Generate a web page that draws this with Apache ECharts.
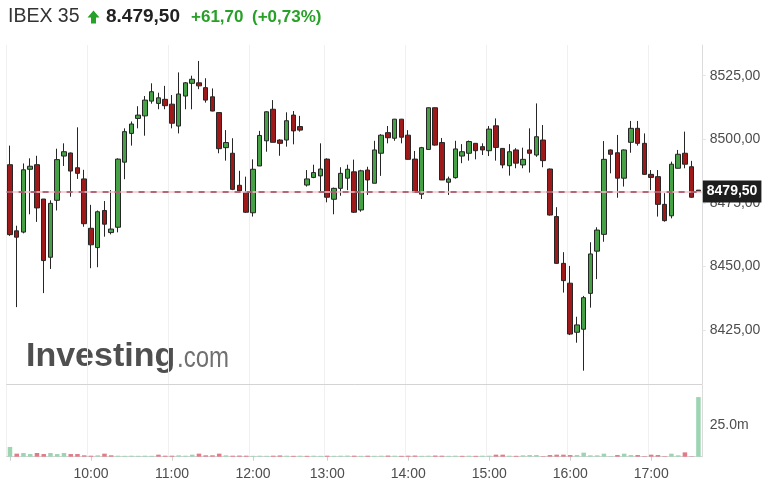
<!DOCTYPE html>
<html>
<head>
<meta charset="utf-8">
<script src="https://cdn.jsdelivr.net/npm/echarts@6/dist/echarts.min.js"></script>
<style>
html,body{margin:0;padding:0;background:#fff;}
#chart{width:784px;height:496px;}
</style>
</head>
<body>
<div id="chart"></div>
<script>
// ---- data ----
const times = [
 '09:00','09:05','09:10','09:15','09:20','09:25','09:30','09:35','09:40','09:45','09:50','09:55',
 '10:00','10:05','10:10','10:15','10:20','10:25','10:30','10:35','10:40','10:45','10:50','10:55',
 '11:00','11:05','11:10','11:15','11:20','11:25','11:30','11:35','11:40','11:45','11:50','11:55',
 '12:00','12:05','12:10','12:15','12:20','12:25','12:35','12:40','12:45','12:50','12:55',
 '13:00','13:05','13:10','13:15','13:20','13:25','13:30','13:35','13:40','13:45','13:50','13:55',
 '14:00','14:05','14:10','14:15','14:20','14:25','14:30','14:35','14:40','14:45','14:50','14:55',
 '15:00','15:05','15:10','15:15','15:20','15:25','15:30','15:35','15:40','15:45','15:50','15:55',
 '16:00','16:05','16:10','16:15','16:20','16:25','16:30','16:35','16:40','16:45','16:50','16:55',
 '17:00','17:05','17:10','17:15','17:20','17:25','17:30','17:35'
];
const open = [
 8490,8464,8463.5,8488.2,8490,8476.5,8453.6,8476,8493.4,8494.6,8488.8,8484.4,
 8465,8457.4,8472,8463.3,8465.4,8491,8502.3,8508.2,8509.2,8515,8514.1,8515.7,
 8513.8,8505.2,8517,8522,8522.2,8520.3,8516.7,8510.5,8496.7,8494.5,8481.9,8479.1,
 8471.1,8489.5,8499.4,8511.8,8499.7,8499.7,8509.5,8505,8482,8485,8485.6,
 8492.2,8476.4,8480.7,8484.7,8487.2,8472.2,8487.9,8482.7,8494.5,8502.6,8500.4,8507.9,
 8501.6,8492.2,8478.4,8496,8512.4,8498.7,8483.1,8484.9,8493.4,8494.5,8498.4,8497.1,
 8495.5,8505.3,8496.4,8489.6,8495.8,8489.9,8495.8,8493.8,8499.7,8488.3,8469.6,8451.2,
 8443.4,8424.1,8425.3,8439.4,8456,8462.6,8495.8,8494.7,8484.7,8498.8,8504.3,8498.4,
 8486.2,8485.3,8474.4,8469.9,8488.6,8494.5,8489.2,8480
];
const close = [
 8462.5,8461.5,8488,8489.4,8473,8452.3,8474.8,8492,8495.1,8487.5,8486.6,8466.8,
 8458.5,8471.5,8466.6,8464.7,8492.2,8503,8506,8509.5,8515.4,8518.7,8516.3,8513.2,
 8506.3,8517.8,8522.2,8523.6,8521,8515.4,8511.1,8496.3,8498.7,8480.3,8479.7,8471.3,
 8488.2,8501.5,8510.8,8498.8,8498.4,8507.3,8503.3,8503.6,8484.4,8486.9,8488.3,
 8477.2,8480.7,8486.6,8488.2,8471.3,8487.6,8484,8495.8,8501.6,8500.6,8507.9,8500.8,
 8492.1,8479.1,8496.7,8512.4,8497.7,8484,8484.4,8496.2,8495.1,8499.1,8495.5,8495.8,
 8504,8496.8,8489.9,8495.1,8490.6,8492.1,8494.5,8501,8491.6,8470.2,8451.2,8444.4,
 8423.4,8427,8437.7,8454.9,8464.3,8492.1,8494.1,8484.7,8495.8,8504.3,8498.4,8486.2,
 8485,8474.4,8468,8490.2,8494.1,8490.2,8477.2,8479.5
];
const low = [
 8462,8434,8463,8470.5,8467.5,8439.5,8449,8472,8489.5,8477.4,8484.4,8465.6,
 8449.3,8449.7,8461.7,8462.6,8463.4,8484.3,8497.5,8504.3,8501.4,8514,8511.8,8511.8,
 8504.3,8502.3,8511.8,8511.8,8519.7,8514.4,8511,8494.5,8491.6,8480,8479.4,8471,
 8469.6,8489.5,8495.1,8498.8,8493.5,8497.1,8498,8503,8481.4,8484.7,8479.4,
 8475.2,8470.5,8477.8,8480,8471,8471.5,8478.1,8482.7,8485.6,8498.4,8499.4,8498.4,
 8492,8479,8476.5,8496,8497.5,8484,8478.1,8484.5,8490.6,8491.6,8492.1,8493.8,
 8493.4,8491.6,8488.6,8485.7,8488.6,8488.6,8486.9,8493.1,8489,8470,8451,8439.7,
 8423,8420,8409,8433.8,8445,8459.7,8486.6,8477,8481.4,8494.7,8497.5,8486,
 8480,8469.6,8467.6,8468.9,8488.5,8488.6,8477,8479.5
];
const high = [
 8497.5,8466,8490.5,8492.5,8493.5,8476.5,8476,8496.3,8498.4,8494.8,8504.7,8488,
 8474.2,8472,8475.7,8480,8492.5,8504.3,8507,8513,8517,8522,8518.3,8521,
 8517.4,8526.3,8522.5,8525,8530.8,8524,8520,8510.5,8503.6,8500.4,8487.6,8485.3,
 8492.1,8503.3,8511,8515.4,8500,8510.6,8511.1,8509.2,8487.9,8490,8498.4,
 8492.5,8481,8489,8490,8492,8488,8489.2,8499.4,8502,8505.2,8508,8508,
 8503.6,8495.4,8497,8512.5,8512.5,8500.5,8485.3,8499.4,8498.1,8499.5,8498.5,8498.4,
 8505.2,8508.2,8496.5,8498.1,8496.5,8496.7,8504.3,8514.1,8505.6,8488.5,8473.3,8455.6,
 8450.2,8430.2,8438.4,8459.5,8465.4,8499.3,8496,8501.7,8496,8507.2,8507.2,8502.3,
 8487.9,8487.9,8478.8,8491.2,8495.8,8503,8491.5,8480
];
// volume in millions
const volume = [
 7.7,2.4,2.9,2.1,2.9,2.1,2.9,2.1,2.9,2.1,2.1,1.1,
 0.8,1.1,2.4,1.1,0.8,0.7,0.8,0.7,0.8,0.7,1.6,0.8,
 0.8,1.1,0.8,1.6,2.4,1.1,1.1,2.4,1.1,0.8,0.9,0.8,
 0.7,0.8,0.7,0.8,1.0,0.8,0.7,0.8,0.7,0.8,0.7,
 0.8,0.7,0.8,0.9,0.8,0.7,0.8,0.7,0.8,0.9,0.8,0.7,
 0.8,0.9,0.7,0.8,0.9,0.8,0.7,0.8,0.7,0.8,0.7,0.8,
 0.8,1.6,1.6,0.8,0.7,1.1,1.3,1.3,0.4,1.3,1.6,1.6,
 1.3,1.3,3.2,1.1,1.1,2.4,0.4,1.3,2.4,1.3,1.3,0.4,
 1.6,1.3,0.4,2.4,1.1,3.4,0.3,47.0
];
const prevClose = 8417.80;
const lastPrice = 8479.50;
const priceTicks = [8425, 8450, 8475, 8500, 8525];
const volumeTicks = [25];
const headerName = 'IBEX 35';
const headerPrice = '8.479,50';
const headerChange = '+61,70';
const headerPct = '(+0,73%)';

// ---- chart ----
const chart = echarts.init(document.getElementById('chart'), null, {renderer: 'canvas'});
const candleData = open.map((o, i) => [o, close[i], low[i], high[i]]);
const volData = volume.map((v, i) => {
  const pc = i === 0 ? prevClose : close[i - 1];
  const up = close[i] >= pc;
  return {value: v, itemStyle: {color: up ? '#9dd5b3' : '#e27a87'}};
});
const isHour = (idx, val) => /:00$/.test(val);
const fmt = v => v.toFixed(2).replace('.', ',');
const FONT = '"Liberation Sans", Arial, sans-serif';

const option = {
  animation: false,
  backgroundColor: '#fff',
  grid: [
    {left: 6.6, right: 82.2, top: 45, bottom: 112},
    {left: 6.6, right: 82.2, top: 385, bottom: 39.3}
  ],
  xAxis: [
    {type: 'category', gridIndex: 0, data: times, boundaryGap: true,
     axisLine: {show: true, lineStyle: {color: '#d4d4d4', width: 1}},
     axisTick: {show: false}, axisLabel: {show: false},
     splitLine: {show: true, interval: isHour, lineStyle: {color: '#f0f0f0', width: 1}}},
    {type: 'category', gridIndex: 1, data: times, boundaryGap: true,
     axisLine: {show: true, lineStyle: {color: '#d4d4d4', width: 1}},
     axisTick: {show: true, interval: isHour, alignWithLabel: true, length: 4, lineStyle: {color: '#cfcfcf'}},
     axisLabel: {show: true, interval: (idx, val) => isHour(idx, val) && idx > 0,
       formatter: v => v.replace(/^0/, ''), color: '#4d4d4d', fontSize: 14, fontFamily: FONT, margin: 10},
     splitLine: {show: true, interval: isHour, lineStyle: {color: '#f0f0f0', width: 1}}}
  ],
  yAxis: [
    {type: 'value', gridIndex: 0, position: 'right', scale: true,
     min: 8403.76, max: 8537.07,
     axisLine: {show: true, lineStyle: {color: '#dcdcdc'}},
     axisTick: {show: true, length: 4, customValues: priceTicks, lineStyle: {color: '#e4e4e4'}},
     axisLabel: {show: true, customValues: priceTicks, formatter: v => fmt(v),
       color: '#4d4d4d', fontSize: 14, fontFamily: FONT, margin: 8},
     splitLine: {show: false}},
    {type: 'value', gridIndex: 1, position: 'right', min: 0, max: 56.5,
     axisLine: {show: true, lineStyle: {color: '#dcdcdc'}},
     axisTick: {show: false, customValues: volumeTicks},
     axisLabel: {show: true, customValues: volumeTicks, formatter: v => v.toFixed(1) + 'm',
       color: '#4d4d4d', fontSize: 14, fontFamily: FONT, margin: 8},
     splitLine: {show: false}}
  ],
  series: [
    {type: 'candlestick', xAxisIndex: 0, yAxisIndex: 0, data: candleData, barWidth: 5,
     itemStyle: {color: '#46a046', color0: '#9e1a1a', borderColor: '#262626', borderColor0: '#262626', borderWidth: 1},
     markLine: {
       symbol: 'none', silent: true, animation: false,
       data: [
         {yAxis: lastPrice, lineStyle: {color: '#f4c3cc', width: 1.6, type: 'solid'}, label: {show: false}},
         {yAxis: lastPrice, lineStyle: {color: '#9c4658', width: 1.6, type: [6, 6]},
          label: {show: true, position: 'end', distance: 1, formatter: fmt(lastPrice),
            backgroundColor: '#1e1e1e', color: '#fff', fontWeight: 'bold', fontSize: 14,
            fontFamily: FONT, padding: [4, 4, 4, 4], lineHeight: 14}}
       ]
     }},
    {type: 'bar', xAxisIndex: 1, yAxisIndex: 1, data: volData, barWidth: 4.5}
  ],
  graphic: [
    {type: 'text', left: 8, top: 7, style: {text: headerName, font: '19.5px ' + FONT, fill: '#333'}},
    {type: 'polygon', shape: {points: [[93.5, 10.5], [87.5, 17.5], [91, 17.5], [91, 23.5], [96, 23.5], [96, 17.5], [99.5, 17.5]]},
     style: {fill: '#27a127'}},
    {type: 'text', left: 106, top: 7, style: {text: headerPrice, font: 'bold 19px ' + FONT, fill: '#222'}},
    {type: 'text', left: 191, top: 8.5, style: {text: headerChange, font: 'bold 17px ' + FONT, fill: '#27a127'}},
    {type: 'text', left: 252, top: 8.5, style: {text: headerPct, font: 'bold 17px ' + FONT, fill: '#27a127'}},
    {type: 'text', left: 26, top: 340, z: 0, style: {text: 'Investing', font: 'bold 34px ' + FONT, fill: '#4f4f4f'}},
    {type: 'text', left: 177, top: 344, z: 0, scaleX: 0.8, style: {text: '.com', font: '30px ' + FONT, fill: '#707070'}}
  ]
};
chart.setOption(option);
</script>
</body>
</html>
